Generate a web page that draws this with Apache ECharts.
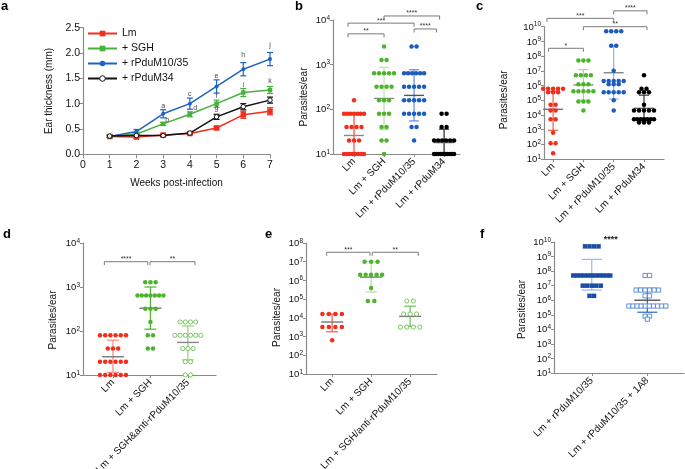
<!DOCTYPE html>
<html>
<head>
<meta charset="utf-8">
<script src="https://cdn.jsdelivr.net/npm/echarts@6/dist/echarts.min.js"></script>
<style>
  html, body { margin: 0; padding: 0; background: #fff; }
  #chart { width: 685px; height: 469px; }
</style>
</head>
<body>
<div id="chart"></div>
<script>
// ---- panel a : ear thickness ----
const weeks = [1, 2, 3, 4, 5, 6, 7];
const aNames = ['Lm', '+ SGH', '+ rPduM10/35', '+ rPduM34'];
const aLm = [0.35, 0.34, 0.38, 0.41, 0.52, 0.78, 0.85];
const aLmSd = [0.02, 0.02, 0.02, 0.02, 0.03, 0.07, 0.07];
const aSgh = [0.36, 0.40, 0.60, 0.79, 1.00, 1.22, 1.27];
const aSghSd = [0.02, 0.02, 0.03, 0.05, 0.07, 0.08, 0.07];
const aM1035 = [0.35, 0.45, 0.80, 1.00, 1.34, 1.68, 1.88];
const aM1035Sd = [0.02, 0.04, 0.08, 0.11, 0.13, 0.13, 0.13];
const aM34 = [0.36, 0.37, 0.37, 0.42, 0.74, 0.94, 1.07];
const aM34Sd = [0.02, 0.02, 0.02, 0.02, 0.05, 0.06, 0.06];
const aLetters = ['a', 'b', 'c', 'd', 'e', 'f', 'g', 'h', 'i', 'j', 'k'];
const aLetterWeek = [3, 3.15, 4, 4.2, 5, 5, 5, 6, 6, 7, 7];
const aLetterY = [0.95, 0.67, 1.19, 0.91, 1.54, 1.15, 0.91, 1.96, 1.37, 2.16, 1.45];

// ---- panel b ----
const bCats = ['Lm', 'Lm + SGH', 'Lm + rPduM10/35', 'Lm + rPduM34'];
const bLm = [160, 80, 80, 80, 80, 80, 80, 80, 40, 40, 40, 40, 20, 20, 20, 10, 10, 10, 10, 10, 10, 10, 10];
const bSgh = [2560, 1280, 1280, 640, 640, 640, 640, 640, 320, 320, 320, 320, 160, 160, 160, 80, 80, 80, 40, 40, 20, 20, 10];
const bM1035 = [2560, 2560, 640, 640, 640, 640, 640, 640, 320, 320, 320, 320, 320, 160, 160, 160, 160, 160, 80, 80, 80, 80, 80, 40, 40, 20];
const bM34 = [80, 80, 40, 40, 20, 20, 20, 20, 20, 20, 10, 10, 10, 10, 10, 10, 10, 10, 10, 10];
const bMean = [26, 175, 205, 18];
const bLow = [10, 35, 55, 10];
const bHigh = [80, 870, 770, 36];
const bBrFrom = [-0.2, -0.2, 2, 1];
const bBrTo = [1, 2, 2.75, 2.85];
const bBrAt = [4900, 8500, 6300, 12300];
const bBrText = ['**', '***', '****', '****'];

// ---- panel c ----
const cCats = ['Lm', 'Lm + SGH', 'Lm + rPduM10/35', 'Lm + rPduM34'];
const cLm = [600000, 600000, 600000, 600000, 600000, 350000, 350000, 350000, 50000, 50000, 20000, 20000, 5000, 5000, 600, 120, 120, 25];
const cSgh = [5e7, 5e7, 5e7, 5e6, 5e6, 5e6, 5e6, 1.2e6, 1.2e6, 1.2e6, 4e5, 4e5, 4e5, 4e5, 4e5, 8e4, 8e4, 8e4, 2e4];
const cM1035 = [5e9, 5e9, 5e9, 5e9, 5e8, 5e8, 1e7, 2e6, 2e6, 2e6, 2e6, 2e6, 1.2e6, 1.2e6, 1.2e6, 3.5e5, 3.5e5, 3.5e5, 3.5e5, 3.5e5, 1e5, 2e4];
const cM34 = [5e6, 6e5, 6e5, 3.5e5, 3.5e5, 3.5e5, 5e4, 2e4, 2e4, 2e4, 2e4, 2e4, 5000, 5000, 5000, 5000, 5000, 5000, 5000, 3000, 3000, 3000];
const cMean = [2.4e4, 1.1e6, 7.4e6, 2.8e4];
const cLow = [900, 1e5, 1.2e5, 4000];
const cHigh = [4e5, 1.2e7, 5e8, 2.2e5];
const cBrFrom = [-0.15, -0.2, 1, 2];
const cBrTo = [1, 2, 3.1, 3.1];
const cBrAt = [3.4e8, 3.7e10, 1e10, 1.2e11];
const cBrText = ['*', '***', '**', '****'];

// ---- panel d ----
const dCats = ['Lm', 'Lm + SGH', 'Lm + SGH&anti-rPduM10/35'];
const dLm = [80, 80, 80, 80, 80, 80, 40, 40, 40, 20, 20, 20, 20, 20, 20, 10, 10, 10, 10, 10, 10];
const dSgh = [1280, 1280, 1280, 640, 640, 640, 640, 640, 640, 640, 320, 320, 320, 160, 80, 80, 40, 40];
const dAnti = [160, 160, 160, 160, 80, 80, 80, 80, 80, 80, 40, 40, 40, 20, 20, 10, 10];
const dMean = [26, 330, 55];
const dLow = [11.5, 110, 22];
const dHigh = [62, 1000, 130];
const dBrFrom = [-0.23, 0.99];
const dBrTo = [0.93, 2.19];
const dBrAt = [3760, 3760];
const dBrText = ['****', '**'];

// ---- panel e ----
const eCats = ['Lm', 'Lm + SGH', 'Lm + SGH/anti-rPduM10/35'];
const eLm = [16000, 16000, 16000, 16000, 3200, 3200, 3200, 3200, 640];
const eSgh = [1e7, 1e7, 1e7, 2e6, 2e6, 2e6, 2e6, 2e6, 4e5, 8e4, 8e4];
const eAnti = [8e4, 8e4, 16000, 16000, 16000, 3200, 3200, 3200, 3200];
const eMean = [6000, 1.5e6, 1.2e4];
const eLow = [1800, 2.4e5, 3500];
const eHigh = [16000, 1e7, 4.2e4];
const eBrFrom = [-0.14, 1.03];
const eBrTo = [0.97, 2.21];
const eBrAt = [3.2e7, 3.2e7];
const eBrText = ['***', '**'];

// ---- panel f ----
const fCats = ['Lm + rPduM10/35', 'Lm + rPduM10/35 + 1A8'];
const fM1035 = [5e9, 5e9, 5e9, 5e9, 5e7, 5e7, 5e7, 5e7, 5e7, 5e7, 5e7, 5e7, 5e7, 5e7, 5e7, 1e7, 1e7, 1e7, 1e7, 1e7, 2e6, 2e6];
const f1A8 = [5e7, 5e7, 5e6, 5e6, 5e6, 5e6, 5e6, 5e6, 2e6, 2e6, 4e5, 4e5, 4e5, 4e5, 4e5, 4e5, 4e5, 4e5, 4e5, 4e5, 8e4, 8e4, 5e4];
const fMean = [5e7, 1e6];
const fLow = [5e6, 1.5e5];
const fHigh = [6.4e8, 6.5e6];
const fStarX = [0.34];
const fStarAt = [1.6e10];
const fStarText = ['****'];

// ---- styling ----
const FONT = '"Liberation Sans", Arial, sans-serif';
const AX = '#8a8a8a';
const RED = '#f42c1c';
const GREEN = '#4cb42c';
const BLUE = '#1d5cbf';
const DBLUE = '#1a4ea6';
const LBLUE = '#4f86d6';

const grids = [], xAxes = [], yAxes = [], series = [];

function spread(vals, step, maxW) {
  const order = [], counts = {};
  vals.forEach(v => {
    if (counts[v] === undefined) { counts[v] = 0; order.push(v); }
    counts[v]++;
  });
  const out = [];
  order.forEach(v => {
    const n = counts[v];
    const s = n > 1 ? Math.min(step, maxW / (n - 1)) : 0;
    for (let i = 0; i < n; i++) out.push([(i - (n - 1) / 2) * s, v]);
  });
  return out;
}

function line(x1, y1, x2, y2, color, w) {
  return { type: 'line', shape: { x1, y1, x2, y2 }, style: { stroke: color, lineWidth: w || 1.2 } };
}

// panel a
grids.push({ left: 83, top: 27.7, width: 187, height: 126.6, containLabel: false, outerBoundsMode: 'none' });
xAxes.push({
  type: 'value', gridIndex: 0, min: 0, max: 7, interval: 1,
  name: 'Weeks post-infection', nameLocation: 'middle', nameGap: 24, nameMoveOverlap: false,
  nameTextStyle: { fontSize: 10, color: '#111', fontFamily: FONT },
  axisLine: { show: true, onZero: false, lineStyle: { color: AX, width: 1.2 } },
  axisTick: { show: true, length: 4, lineStyle: { color: AX } },
  axisLabel: { fontSize: 10.5, color: '#111', margin: 5, fontFamily: FONT },
  splitLine: { show: false }
});
yAxes.push({
  type: 'value', gridIndex: 0, min: 0, max: 2.5, interval: 0.5,
  name: 'Ear thickness (mm)', nameLocation: 'middle', nameGap: 29, nameMoveOverlap: false,
  nameTextStyle: { fontSize: 10, color: '#111', fontFamily: FONT },
  axisLine: { show: true, onZero: false, lineStyle: { color: AX, width: 1.2 } },
  axisTick: { show: true, length: 4, lineStyle: { color: AX } },
  axisLabel: { fontSize: 10.5, color: '#111', margin: 3, fontFamily: FONT, formatter: v => v.toFixed(1) },
  splitLine: { show: false }
});

const aSets = [
  [aLm, aLmSd, RED, 'rect', 5.5, false],
  [aSgh, aSghSd, '#47b23b', 'rect', 4.5, false],
  [aM1035, aM1035Sd, '#1f61c4', 'circle', 4, false],
  [aM34, aM34Sd, '#111', 'circle', 4.5, true]
];
aSets.forEach((s, k) => {
  const [vals, sd, color, sym, size, open] = s;
  series.push({
    type: 'custom', xAxisIndex: 0, yAxisIndex: 0, silent: true, z: 2,
    data: weeks.map((w, i) => [w, vals[i] - sd[i], vals[i] + sd[i]]),
    encode: { x: 0, y: [1, 2] },
    renderItem: (params, api) => {
      const l = api.coord([api.value(0), api.value(1)]);
      const h = api.coord([api.value(0), api.value(2)]);
      return { type: 'group', children: [
        line(l[0], l[1], h[0], h[1], color, 1.2),
        line(l[0] - 3, l[1], l[0] + 3, l[1], color, 1.2),
        line(h[0] - 3, h[1], h[0] + 3, h[1], color, 1.2)
      ] };
    }
  });
  series.push({
    type: 'line', name: aNames[k], xAxisIndex: 0, yAxisIndex: 0, z: 3 + k,
    data: weeks.map((w, i) => [w, vals[i]]),
    symbol: sym, symbolSize: size, showSymbol: true,
    lineStyle: { color, width: 1.5 },
    itemStyle: open ? { color: '#fff', borderColor: color, borderWidth: 1 } : { color, borderWidth: 0 }
  });
});
series.push({
  type: 'custom', xAxisIndex: 0, yAxisIndex: 0, silent: true, z: 10,
  data: aLetterWeek.map((w, i) => [w, aLetterY[i]]),
  renderItem: (params, api) => {
    const p = api.coord([api.value(0), api.value(1)]);
    return { type: 'text', x: p[0], y: p[1], style: {
      text: aLetters[params.dataIndex], fontSize: 7, fill: '#444', fontFamily: FONT,
      align: 'center', verticalAlign: 'middle' } };
  }
});

// scatter panels
const panels = [
  { cats: bCats, groups: [bLm, bSgh, bM1035, bM34], colors: [RED, GREEN, BLUE, '#000'],
    symbols: ['circle', 'circle', 'circle', 'circle'], open: [false, false, false, false], size: 4.5,
    mean: bMean, low: bLow, high: bHigh,
    sd: ['#f24a3a', '#bfe3a8', '#5b8ed6', '#222'], mc: ['#8a8a8a', '#8a8a8a', '#555', '#777'],
    br: [bBrFrom, bBrTo, bBrAt, bBrText],
    left: 333, top: 20, width: 127, height: 134, xMin: -0.7, xMax: 3.53, maxExp: 4, nameGap: 24, nameShift: 20,
    step: 5, maxW: 20, capW: 10, meanW: 20 },
  { cats: cCats, groups: [cLm, cSgh, cM1035, cM34], colors: [RED, GREEN, BLUE, '#000'],
    symbols: ['circle', 'circle', 'circle', 'circle'], open: [false, false, false, false], size: 4.5,
    mean: cMean, low: cLow, high: cHigh,
    sd: ['#f55a4a', '#a8d98e', '#8fb1e3', '#333'], mc: ['#777', '#8a8a8a', '#888', '#666'],
    br: [cBrFrom, cBrTo, cBrAt, cBrText],
    left: 544, top: 26.7, width: 120, height: 132.3, xMin: -0.3, xMax: 3.66, maxExp: 10, nameGap: 35, nameShift: 14,
    step: 5, maxW: 20, capW: 10, meanW: 20 },
  { cats: dCats, groups: [dLm, dSgh, dAnti], colors: [RED, GREEN, '#6cc152'],
    symbols: ['circle', 'circle', 'circle'], open: [false, false, true], size: 4.5,
    mean: dMean, low: dLow, high: dHigh,
    sd: ['#f78880', GREEN, '#8fd17a'], mc: ['#777', '#777', '#888'],
    br: [dBrFrom, dBrTo, dBrAt, dBrText],
    left: 83, top: 243, width: 133, height: 132, xMin: -0.8, xMax: 2.75, maxExp: 4, nameGap: 25, nameShift: 22,
    step: 5.2, maxW: 26, capW: 12, meanW: 22 },
  { cats: eCats, groups: [eLm, eSgh, eAnti], colors: [RED, GREEN, '#6cc152'],
    symbols: ['circle', 'circle', 'circle'], open: [false, false, true], size: 4.5,
    mean: eMean, low: eLow, high: eHigh,
    sd: ['#f0584b', '#b5e0a0', '#6cc152'], mc: ['#777', '#777', '#777'],
    br: [eBrFrom, eBrTo, eBrAt, eBrText],
    left: 306, top: 243, width: 131, height: 131, xMin: -0.67, xMax: 2.69, maxExp: 8, nameGap: 24, nameShift: 18,
    step: 6.5, maxW: 22, capW: 12, meanW: 22 },
  { cats: fCats, groups: [fM1035, f1A8], colors: [DBLUE, LBLUE],
    symbols: ['rect', 'rect'], open: [false, true], size: 4.5,
    mean: fMean, low: fLow, high: fHigh,
    sd: ['#9db8e6', '#2b63c0'], mc: ['#9db8e6', '#555'],
    br: null,
    left: 554, top: 242, width: 130, height: 131, xMin: -0.68, xMax: 1.66, maxExp: 10, nameGap: 27, nameShift: 4,
    step: 4.5, maxW: 37, capW: 20, meanW: 26 }
];

panels.forEach((P, pi) => {
  const gi = pi + 1;
  grids.push({ left: P.left, top: P.top, width: P.width, height: P.height, containLabel: false, outerBoundsMode: 'none' });
  const catIdx = P.cats.map((c, i) => i);
  xAxes.push({
    type: 'value', gridIndex: gi, min: P.xMin, max: P.xMax,
    axisLine: { show: true, onZero: false, lineStyle: { color: AX, width: 1.2 } },
    axisTick: { show: true, length: 3, customValues: catIdx, lineStyle: { color: AX } },
    axisLabel: { customValues: catIdx, rotate: 45, margin: 6, fontSize: 10, color: '#111', fontFamily: FONT,
      formatter: v => P.cats[Math.round(v)] },
    splitLine: { show: false }
  });
  const decades = [];
  for (let e = 1; e <= P.maxExp; e++) decades.push(Math.pow(10, e));
  yAxes.push({
    type: 'log', logBase: 10, gridIndex: gi, min: 10, max: Math.pow(10, P.maxExp), splitNumber: P.maxExp - 1,
    name: 'Parasites/ear', nameLocation: 'middle', nameGap: P.nameGap, nameMoveOverlap: false,
    nameTextStyle: { fontSize: 10, color: '#111', fontFamily: FONT, padding: [0, P.nameShift, 0, 0] },
    axisLine: { show: true, onZero: false, lineStyle: { color: AX, width: 1.2 } },
    axisTick: { show: true, length: 3, customValues: decades, lineStyle: { color: AX } },
    minorTick: { show: false },
    axisLabel: { customValues: decades, margin: 3, color: '#111',
      formatter: v => '{b|10}{s|' + Math.round(Math.log10(v)) + '}',
      rich: {
        b: { fontSize: 9.5, lineHeight: 11, verticalAlign: 'bottom', fontFamily: FONT, color: '#111' },
        s: { fontSize: 6.5, lineHeight: 11, verticalAlign: 'top', fontFamily: FONT, color: '#111' }
      } },
    splitLine: { show: false }
  });
  const unitPx = P.width / (P.xMax - P.xMin);
  // sd + mean
  series.push({
    type: 'custom', xAxisIndex: gi, yAxisIndex: gi, silent: true, z: 2, clip: false,
    data: P.mean.map((m, i) => [i, m, P.low[i], P.high[i]]),
    encode: { x: 0, y: [1, 2, 3] },
    renderItem: (params, api) => {
      const i = params.dataIndex, x = api.value(0);
      const m = api.coord([x, api.value(1)]);
      const l = api.coord([x, api.value(2)]);
      const h = api.coord([x, api.value(3)]);
      const c = P.sd[i], hw = P.capW / 2, mw = P.meanW / 2;
      return { type: 'group', children: [
        line(l[0], l[1], h[0], h[1], c, 1.2),
        line(h[0] - hw, h[1], h[0] + hw, h[1], c, 1.2),
        line(l[0] - hw, l[1], l[0] + hw, l[1], c, 1.2),
        line(m[0] - mw, m[1], m[0] + mw, m[1], P.mc[i], 1.4)
      ] };
    }
  });
  // dots
  P.groups.forEach((vals, k) => {
    const pts = spread(vals, P.step / unitPx, P.maxW / unitPx).map(p => [k + p[0], p[1]]);
    const open = P.open[k];
    series.push({
      type: 'scatter', xAxisIndex: gi, yAxisIndex: gi, silent: true, z: 3, clip: false,
      symbol: P.symbols[k], symbolSize: open ? 4.2 : P.size,
      itemStyle: open ? { color: '#fff', borderColor: P.colors[k], borderWidth: 0.9, opacity: 1 }
                      : { color: P.colors[k], borderWidth: 0, opacity: 1 },
      data: pts
    });
  });
  // significance brackets
  if (P.br) {
    const [from, to, at, txt] = P.br;
    series.push({
      type: 'custom', xAxisIndex: gi, yAxisIndex: gi, silent: true, z: 4, clip: false,
      data: from.map((f, i) => [f, to[i], at[i]]),
      encode: { x: [0, 1], y: 2 },
      renderItem: (params, api) => {
        const p1 = api.coord([api.value(0), api.value(2)]);
        const p2 = api.coord([api.value(1), api.value(2)]);
        return { type: 'group', children: [
          { type: 'polyline', shape: { points: [[p1[0], p1[1] + 3.5], [p1[0], p1[1]], [p2[0], p2[1]], [p2[0], p2[1] + 3.5]] },
            style: { stroke: '#7a7a7a', lineWidth: 1, fill: null } },
          { type: 'text', x: (p1[0] + p2[0]) / 2, y: p1[1] + 1, style: {
            text: txt[params.dataIndex], fontSize: 7, fill: '#333', fontFamily: FONT,
            align: 'center', verticalAlign: 'bottom' } }
        ] };
      }
    });
  }
});

// panel f star label
series.push({
  type: 'custom', xAxisIndex: 5, yAxisIndex: 5, silent: true, z: 4, clip: false,
  data: fStarX.map((x, i) => [x, fStarAt[i]]),
  renderItem: (params, api) => {
    const p = api.coord([api.value(0), api.value(1)]);
    return { type: 'text', x: p[0], y: p[1], style: {
      text: fStarText[params.dataIndex], fontSize: 9, fontWeight: 'bold', fill: '#222', fontFamily: FONT,
      align: 'center', verticalAlign: 'middle' } };
  }
});

const panelLetters = [['a', 1, 6], ['b', 295, 6], ['c', 476, 6], ['d', 3, 234], ['e', 265, 234], ['f', 480, 234]];

const chart = echarts.init(document.getElementById('chart'), null, { renderer: 'canvas', width: 685, height: 469 });
chart.setOption({
  animation: false,
  backgroundColor: '#fff',
  textStyle: { fontFamily: FONT },
  grid: grids,
  xAxis: xAxes,
  yAxis: yAxes,
  legend: {
    data: aNames, orient: 'vertical', left: 87, top: 27, padding: 0,
    itemWidth: 29, itemHeight: 7, itemGap: 2,
    itemStyle: { borderWidth: 1 },
    textStyle: { fontSize: 10.5, color: '#111', fontFamily: FONT, lineHeight: 13 }
  },
  graphic: panelLetters.map(p => ({
    type: 'text', x: p[1], y: p[2], silent: true,
    style: { text: p[0], fontSize: 13, fontWeight: 'bold', fill: '#000', fontFamily: FONT, verticalAlign: 'middle' }
  })),
  series: series
});
</script>
</body>
</html>
